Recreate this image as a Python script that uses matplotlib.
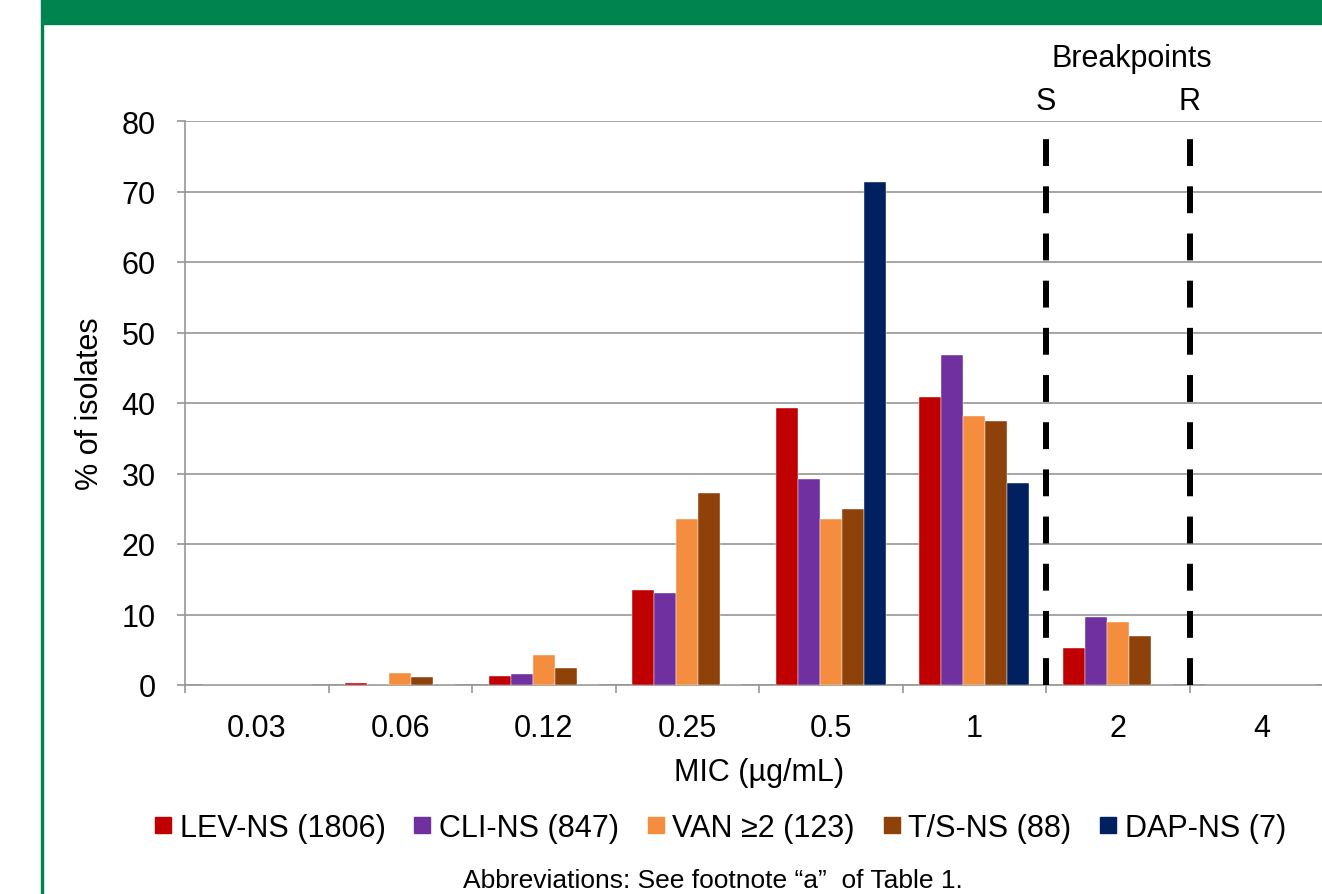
import matplotlib.pyplot as plt
from matplotlib.lines import Line2D
from matplotlib.patches import Rectangle

plt.rcParams['font.family'] = ['Liberation Sans', 'DejaVu Sans']

mic_labels = ["0.03", "0.06", "0.12", "0.25", "0.5", "1", "2", "4"]
series_names = ["LEV-NS (1806)", "CLI-NS (847)", "VAN \u22652 (123)", "T/S-NS (88)", "DAP-NS (7)"]
lev = [0, 0.3, 1.3, 13.5, 39.3, 40.8, 5.2, 0]
cli = [0, 0, 1.6, 13.0, 29.2, 46.8, 9.7, 0]
van = [0, 1.7, 4.2, 23.6, 23.6, 38.2, 8.9, 0]
ts = [0, 1.2, 2.4, 27.3, 25.0, 37.5, 6.9, 0]
dap = [0, 0, 0, 0, 71.4, 28.6, 0, 0]
colors = ["#C00000", "#7030A0", "#F58D3F", "#8E4108", "#002060"]
breakpoints = {"S": 5.5, "R": 6.5}

fig = plt.figure(figsize=(13.22, 8.95), dpi=100)
fig.patch.set_facecolor("white")

# green header bar and left border
green = "#00844F"
fig.patches.append(Rectangle((42 / 1322, 1 - 25 / 895), 1, 25 / 895,
                             transform=fig.transFigure, color=green, zorder=0))
fig.patches.append(Rectangle((41 / 1322, 0), 2 / 1322, 1,
                             transform=fig.transFigure, color=green, zorder=0))

ax = fig.add_axes([185 / 1322, 1 - 686 / 895, (1333 - 185) / 1322, 564 / 895])

all_series = [lev, cli, van, ts, dap]
w = 0.153
for k, (vals, c) in enumerate(zip(all_series, colors)):
    xs = [i + (k - 2) * w for i in range(len(mic_labels))]
    ax.bar(xs, vals, width=w, color=c, edgecolor="white", linewidth=0.3, zorder=3)

ax.set_xlim(-0.5, len(mic_labels) - 0.5)
ax.set_ylim(0, 80)
ax.set_yticks(range(0, 81, 10))
ax.yaxis.grid(True, color="#969696", linewidth=1.2, zorder=0)
ax.set_axisbelow(True)

fs = 22
# x ticks at category boundaries, labels at centres
ax.set_xticks([i - 0.5 for i in range(len(mic_labels) + 1)])
ax.set_xticklabels([])
ax.set_xticks(range(len(mic_labels)), minor=True)
ax.set_xticklabels(mic_labels, minor=True)
ax.tick_params(axis="x", which="major", length=6, width=1.2, color="#969696")
ax.tick_params(axis="x", which="minor", length=0, pad=20, labelsize=fs)
ax.tick_params(axis="y", length=6, width=1.2, color="#969696", pad=15, labelsize=fs)

for s in ["top", "right"]:
    ax.spines[s].set_visible(False)
for s in ["left", "bottom"]:
    ax.spines[s].set_color("#969696")
    ax.spines[s].set_linewidth(1.2)

# breakpoint lines
for lab, xv in breakpoints.items():
    ax.plot([xv, xv], [0, 80], color="black", linewidth=4.3,
            linestyle=(0, (4.5, 3.4)), solid_capstyle="butt", zorder=4, clip_on=False)
    ax.text(xv, 81.7, lab, ha="center", va="baseline", fontsize=fs, clip_on=False)
ax.text(sum(breakpoints.values()) / 2 + 0.1, 87.8, "Breakpoints", ha="center", va="baseline",
        fontsize=fs, clip_on=False)

ax.set_xlabel("MIC (\u00b5g/mL)", fontsize=fs, labelpad=10)
ax.set_ylabel("% of isolates", fontsize=fs, labelpad=12)

handles = [Line2D([], [], marker="s", linestyle="none", markersize=12,
                  markerfacecolor=c, markeredgecolor=c) for c in colors]
fig.legend(handles, series_names, loc="center", bbox_to_anchor=(720 / 1322, 1 - 829 / 895),
           ncol=5, frameon=False, fontsize=22, handletextpad=0.25,
           columnspacing=0.9, handlelength=0.6)

fig.text(713 / 1322, 1 - 881 / 895, "Abbreviations: See footnote \u201ca\u201d  of Table 1.",
         ha="center", va="center", fontsize=19)

fig.savefig("out.png", dpi=100)
